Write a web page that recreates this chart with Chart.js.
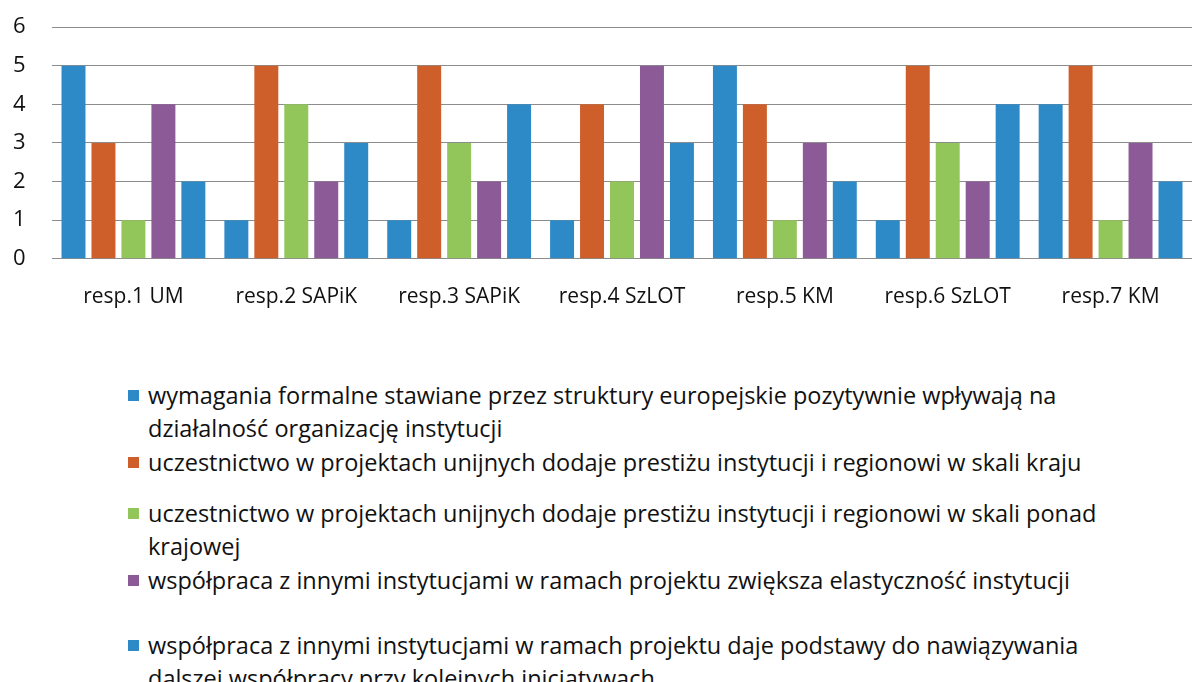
<!DOCTYPE html>
<html>
<head>
<meta charset="utf-8">
<title>Ocena wpływu projektów unijnych</title>
<script src="https://cdn.jsdelivr.net/npm/chart.js"></script>
<style>
  html, body { margin: 0; padding: 0; background: #fff; }
  body { width: 1192px; height: 682px; overflow: hidden; font-family: 'Open Sans', sans-serif; color: #111; position: relative; }
  #chart { position: absolute; left: 0; top: 0; }
  #legend { margin: 0; padding: 0; list-style: none; }
  #legend li { position: absolute; left: 128px; padding-left: 20px; font-size: 23.5px; line-height: 33px; white-space: nowrap; }
  #legend li span.box { position: absolute; left: 0; top: 11px; width: 11px; height: 11px; }
</style>
</head>
<body>
<canvas id="chart" width="1192" height="336"></canvas>
<ul id="legend"></ul>
<script>
// categories (respondents)
const respondents = ['resp.1 UM', 'resp.2 SAPiK', 'resp.3 SAPiK', 'resp.4 SzLOT', 'resp.5 KM', 'resp.6 SzLOT', 'resp.7 KM'];

// legend labels, already split into lines like the original
const statements = [
  ['wymagania formalne stawiane przez struktury europejskie pozytywnie wpływają na', 'działalność organizację instytucji'],
  ['uczestnictwo w projektach unijnych dodaje prestiżu instytucji i regionowi w skali kraju'],
  ['uczestnictwo w projektach unijnych dodaje prestiżu instytucji i regionowi w skali ponad', 'krajowej'],
  ['współpraca z innymi instytucjami w ramach projektu zwiększa elastyczność instytucji'],
  ['współpraca z innymi instytucjami w ramach projektu daje podstawy do nawiązywania', 'dalszej współpracy przy kolejnych inicjatywach']
];

const formalReq   = [5, 1, 1, 1, 5, 1, 4];
const prestigeNat = [3, 5, 5, 4, 4, 5, 5];
const prestigeInt = [1, 4, 3, 2, 1, 3, 1];
const flexibility = [4, 2, 2, 5, 3, 2, 3];
const furtherCoop = [2, 3, 4, 3, 2, 4, 2];

const colors = ['#2e8ac6', '#cf5f2a', '#92c55a', '#8c5a97', '#2e8ac6'];
const seriesValues = [formalReq, prestigeNat, prestigeInt, flexibility, furtherCoop];

// legend rows are unevenly spaced in the original
const legendTops = [379, 446, 497, 564, 629];

const datasets = seriesValues.map((vals, i) => ({
  label: statements[i].join(' '),
  data: vals,
  backgroundColor: colors[i],
  borderWidth: 0,
  barPercentage: 0.8,
  categoryPercentage: 0.92
}));

new Chart(document.getElementById('chart').getContext('2d'), {
  type: 'bar',
  data: { labels: respondents, datasets: datasets },
  options: {
    responsive: false,
    animation: false,
    layout: { padding: { top: 27, right: 0, left: 13, bottom: 0 } },
    plugins: { legend: { display: false }, tooltip: { enabled: false } },
    scales: {
      x: {
        grid: { display: false, drawTicks: false },
        border: { display: false },
        ticks: { color: '#111', font: { family: 'Open Sans', size: 21 }, padding: 26, maxRotation: 0, autoSkip: false }
      },
      y: {
        min: 0,
        max: 6,
        ticks: { stepSize: 1, color: '#111', font: { family: 'Open Sans', size: 22 }, padding: 0, crossAlign: 'far' },
        grid: { color: '#8c8c8c', lineWidth: 1, drawTicks: false },
        border: { display: false },
        afterFit: function (scale) { scale.width = 39; }
      }
    }
  }
});

// html legend
const ul = document.getElementById('legend');
statements.forEach((lines, i) => {
  const li = document.createElement('li');
  li.style.top = legendTops[i] + 'px';
  const box = document.createElement('span');
  box.className = 'box';
  box.style.background = colors[i];
  li.appendChild(box);
  lines.forEach((t, j) => {
    if (j > 0) li.appendChild(document.createElement('br'));
    li.appendChild(document.createTextNode(t));
  });
  ul.appendChild(li);
});
</script>
</body>
</html>
